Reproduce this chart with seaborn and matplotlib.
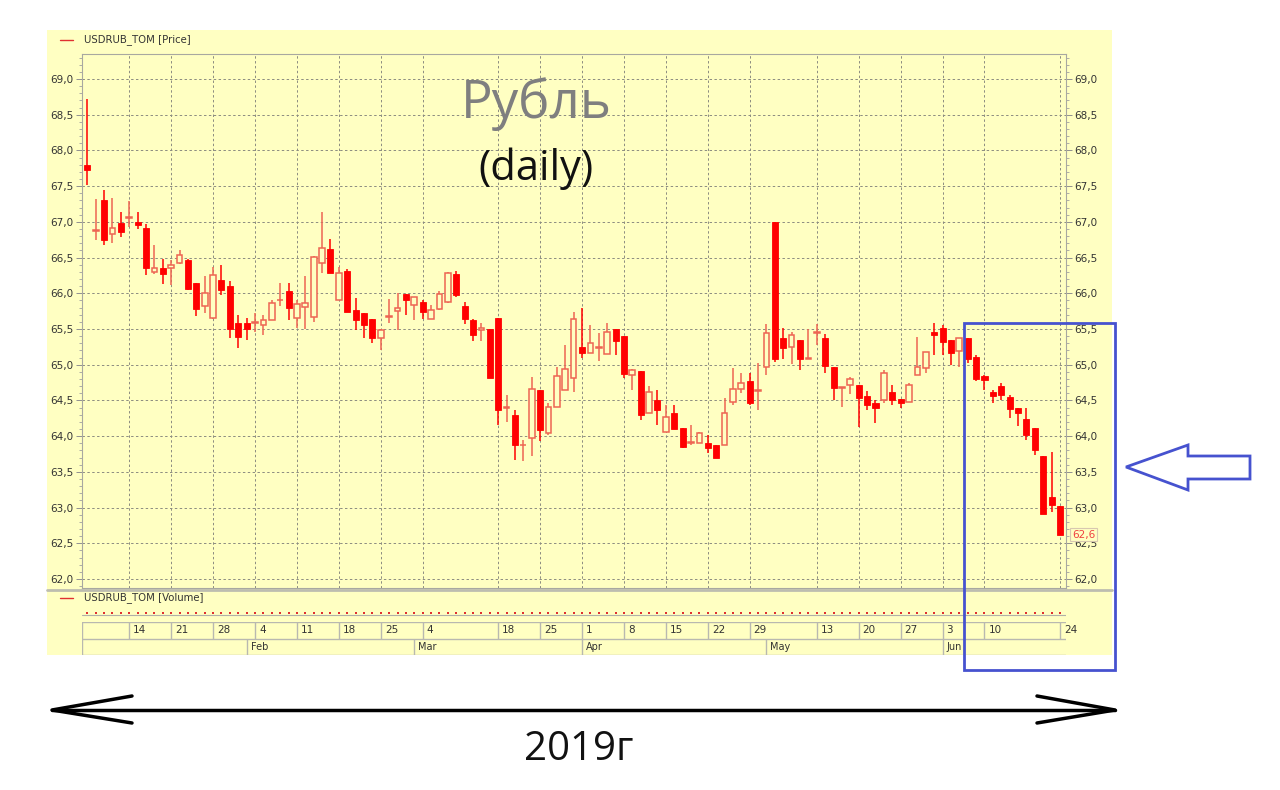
import numpy as np
import pandas as pd
import matplotlib
matplotlib.use("Agg")
import matplotlib.pyplot as plt
import matplotlib.transforms as mtrans
from matplotlib.patches import Rectangle, Polygon
from matplotlib.ticker import MultipleLocator, FixedLocator
import seaborn as sns

# ---------------- data ----------------
opens = [67.79, 66.87, 67.30, 66.83, 66.99, 67.06, 67.00, 66.92, 66.30, 66.35,
         66.35, 66.42, 66.47, 66.15, 65.82, 65.65, 66.19, 66.10, 65.58, 65.59,
         65.58, 65.56, 65.63, 65.90, 66.03, 65.65, 65.81, 65.67, 66.43, 66.62,
         65.90, 66.31, 65.77, 65.73, 65.64, 65.38, 65.67, 65.75, 65.99, 65.83,
         65.88, 65.64, 65.78, 65.88, 66.27, 65.82, 65.63, 65.48, 65.50, 65.65,
         64.39, 64.29, 63.87, 63.98, 64.65, 64.05, 64.41, 64.65, 64.81, 65.25,
         65.17, 65.24, 65.15, 65.50, 65.40, 64.85, 64.91, 64.33, 64.51, 64.06,
         64.33, 64.11, 63.90, 63.90, 63.90, 63.87, 63.88, 64.48, 64.66, 64.77,
         64.63, 64.97, 67.00, 65.38, 65.25, 65.35, 65.08, 65.44, 65.38, 64.97,
         64.68, 64.72, 64.71, 64.56, 64.46, 64.51, 64.62, 64.52, 64.48, 64.85,
         64.95, 65.46, 65.51, 65.35, 65.19, 65.37, 65.11, 64.84, 64.62, 64.70,
         64.55, 64.39, 64.24, 64.11, 63.72, 63.15, 63.02]
highs = [68.72, 67.32, 67.44, 67.33, 67.14, 67.29, 67.14, 66.97, 66.68, 66.48,
         66.46, 66.61, 66.48, 66.15, 66.24, 66.37, 66.40, 66.17, 65.69, 65.66,
         65.72, 65.70, 65.91, 66.15, 66.14, 65.91, 66.24, 66.52, 67.14, 66.76,
         66.37, 66.34, 65.93, 65.73, 65.64, 65.50, 65.92, 66.01, 65.99, 65.95,
         65.91, 65.83, 66.03, 66.30, 66.31, 65.88, 65.64, 65.59, 65.50, 65.65,
         64.57, 64.37, 63.94, 64.83, 64.65, 64.46, 64.97, 65.27, 65.74, 65.80,
         65.55, 65.45, 65.59, 65.50, 65.40, 64.94, 64.91, 64.70, 64.64, 64.43,
         64.44, 64.11, 64.15, 64.06, 64.01, 63.87, 64.53, 64.96, 64.88, 64.89,
         65.03, 65.57, 67.00, 65.51, 65.46, 65.35, 65.50, 65.57, 65.43, 64.97,
         64.68, 64.83, 64.71, 64.63, 64.50, 64.93, 64.71, 64.52, 64.74, 65.39,
         65.18, 65.58, 65.56, 65.35, 65.38, 65.37, 65.14, 64.86, 64.65, 64.74,
         64.57, 64.39, 64.39, 64.11, 63.72, 63.78, 63.02]
lows = [67.52, 66.74, 66.67, 66.70, 66.79, 66.93, 66.90, 66.26, 66.27, 66.13,
        66.12, 66.41, 66.04, 65.68, 65.72, 65.64, 65.98, 65.37, 65.23, 65.34,
        65.46, 65.42, 65.62, 65.82, 65.63, 65.52, 65.50, 65.60, 66.28, 66.29,
        65.90, 65.74, 65.48, 65.37, 65.31, 65.21, 65.59, 65.49, 65.70, 65.63,
        65.64, 65.64, 65.77, 65.87, 65.95, 65.57, 65.33, 65.33, 64.81, 64.16,
        64.20, 63.67, 63.65, 63.72, 63.93, 64.01, 64.41, 64.65, 64.62, 65.10,
        65.17, 65.05, 65.15, 65.14, 64.81, 64.64, 64.22, 64.33, 64.15, 64.06,
        64.10, 63.83, 63.88, 63.90, 63.76, 63.69, 63.88, 64.44, 64.60, 64.44,
        64.37, 64.85, 65.04, 65.08, 65.01, 64.92, 65.08, 65.28, 64.89, 64.50,
        64.41, 64.59, 64.13, 64.37, 64.18, 64.47, 64.44, 64.39, 64.48, 64.85,
        64.88, 65.14, 65.14, 65.00, 64.97, 65.03, 64.77, 64.65, 64.47, 64.51,
        64.25, 64.14, 63.94, 63.73, 62.91, 62.94, 62.62]
closes = [67.73, 66.88, 66.74, 66.91, 66.86, 67.07, 66.96, 66.36, 66.36, 66.27,
          66.39, 66.53, 66.06, 65.78, 66.00, 66.25, 66.05, 65.50, 65.39, 65.50,
          65.59, 65.62, 65.86, 65.91, 65.80, 65.85, 65.87, 66.51, 66.63, 66.29,
          66.28, 65.74, 65.63, 65.56, 65.38, 65.49, 65.68, 65.79, 65.90, 65.95,
          65.74, 65.76, 65.99, 66.29, 65.98, 65.64, 65.41, 65.51, 64.82, 64.37,
          64.40, 63.87, 63.88, 64.66, 64.08, 64.41, 64.84, 64.94, 65.64, 65.17,
          65.30, 65.25, 65.46, 65.33, 64.87, 64.92, 64.29, 64.62, 64.36, 64.27,
          64.10, 63.85, 63.91, 64.05, 63.83, 63.70, 64.33, 64.66, 64.75, 64.47,
          64.64, 65.45, 65.08, 65.24, 65.42, 65.08, 65.09, 65.45, 64.98, 64.67,
          64.69, 64.80, 64.53, 64.44, 64.40, 64.88, 64.50, 64.47, 64.72, 64.97,
          65.18, 65.42, 65.32, 65.16, 65.38, 65.08, 64.80, 64.78, 64.56, 64.57,
          64.38, 64.32, 64.02, 63.80, 62.91, 63.04, 62.62]

holidays = ["2019-01-07", "2019-03-08", "2019-05-01", "2019-05-09", "2019-06-12"]
tick_dates = ["2019-01-14", "2019-01-21", "2019-01-28", "2019-02-04", "2019-02-11",
              "2019-02-18", "2019-02-25", "2019-03-04", "2019-03-18", "2019-03-25",
              "2019-04-01", "2019-04-08", "2019-04-15", "2019-04-22", "2019-04-29",
              "2019-05-13", "2019-05-20", "2019-05-27", "2019-06-03", "2019-06-10",
              "2019-06-24"]
month_labels = ["Feb", "Mar", "Apr", "May", "Jun"]
price_ticks = [62.0, 62.5, 63.0, 63.5, 64.0, 64.5, 65.0, 65.5, 66.0, 66.5,
               67.0, 67.5, 68.0, 68.5, 69.0]
last_label = "62,6"

# ---------------- prep ----------------
dates = pd.bdate_range("2019-01-04", "2019-06-24")
dates = dates[~dates.isin(pd.to_datetime(holidays))]
df = pd.DataFrame({"date": dates, "open": opens, "high": highs,
                   "low": lows, "close": closes})
df["k"] = np.arange(len(df))
df["up"] = df["close"] >= df["open"]
tick_pos = dates.get_indexer(pd.to_datetime(tick_dates))
months = dates.to_period("M")
month_pos = [int(np.argmax(months == m)) for m in months.unique()[1:]]

# ---------------- style ----------------
sns.set_theme(style="white")
plt.rcParams["font.family"] = ["DejaVu Sans"]
YEL = "#FFFFC2"
RED = "#FF0000"
SAL = "#EE6452"
GRID = "#8C8C80"
TXT = "#333333"
W, H = 1280, 790

fig = plt.figure(figsize=(12.8, 7.9), dpi=100)
fig.patch.set_facecolor("white")


def rect(x0, y0, x1, y1):
    return [x0 / W, 1 - y1 / H, (x1 - x0) / W, (y1 - y0) / H]


bg = fig.add_axes([0, 0, 1, 1], zorder=0)
bg.set_xlim(0, W)
bg.set_ylim(H, 0)
bg.axis("off")
bg.add_patch(Rectangle((47, 30), 1112 - 47, 655 - 30, fc=YEL, ec="none"))
bg.plot([47, 1112], [590, 590], color="#BDBDB0", lw=2)
bg.plot([60, 73], [40, 40], color="#E03030", lw=1)
bg.text(84, 40, "USDRUB_TOM [Price]", fontsize=7.3, color=TXT, va="center")
bg.plot([60, 73], [598, 598], color="#E03030", lw=1)
bg.text(84, 598, "USDRUB_TOM [Volume]", fontsize=7.3, color=TXT, va="center")

XL = (-0.632, 116.72)

# ---------------- price axes ----------------
ax = fig.add_axes(rect(82, 54, 1066, 588), zorder=2)
ax.set_facecolor(YEL)
ax.set_xlim(*XL)
ax.set_ylim(61.874, 69.35)

for up, grp in df.groupby("up"):
    col = SAL if up else RED
    ax.vlines(grp["k"], grp["low"], grp["high"], colors=col, lw=1.1, zorder=3)
    bottom = grp[["open", "close"]].min(axis=1)
    height = (grp["close"] - grp["open"]).abs().clip(lower=0.012)
    if up:
        ax.bar(grp["k"], height, bottom=bottom, width=0.68, facecolor=YEL,
               edgecolor=SAL, linewidth=1.1, zorder=4)
    else:
        ax.bar(grp["k"], height, bottom=bottom, width=0.72, facecolor=RED,
               edgecolor=RED, linewidth=0.6, zorder=4)

ax.yaxis.set_major_locator(FixedLocator(price_ticks))
ax.set_yticklabels([f"{t:.1f}".replace(".", ",") for t in price_ticks])
ax.yaxis.set_minor_locator(MultipleLocator(0.1))
ax.set_xticks(tick_pos)
ax.set_xticklabels([])
ax.tick_params(axis="y", which="major", left=True, right=True, labelleft=True,
               labelright=True, length=4, width=0.7, color="#909090",
               labelsize=7.5, labelcolor=TXT, pad=2)
ax.tick_params(axis="y", which="minor", left=True, right=True, length=2,
               width=0.6, color="#A0A0A0")
ax.tick_params(axis="x", length=0)
ax.grid(True, which="major", axis="both", color=GRID, lw=0.7,
        linestyle=(0, (2.5, 2.5)))
ax.set_axisbelow(True)
for s in ax.spines.values():
    s.set_color("#A8A8A0")
    s.set_linewidth(0.8)

last_close = df["close"].iloc[-1]
ax.text(1.006, last_close, last_label, transform=mtrans.blended_transform_factory(
    ax.transAxes, ax.transData), fontsize=7.5, color="#F04040", va="center",
    ha="left", zorder=6,
    bbox=dict(boxstyle="square,pad=0.15", fc=YEL, ec="#D8C8B0", lw=0.8))

# ---------------- volume strip ----------------
vol = fig.add_axes(rect(82, 607, 1066, 619), zorder=2)
vol.set_xlim(*XL)
vol.set_ylim(-1, 1)
vol.axis("off")
vol.axhline(-0.3, color="#B0B0A8", lw=0.8)
sns.scatterplot(x=df["k"], y=np.zeros(len(df)), ax=vol, color="#E03030",
                s=2.5, marker="s", linewidth=0, legend=False)

# ---------------- date rows ----------------
dax = fig.add_axes(rect(82, 622, 1066, 655), zorder=2)
dax.set_xlim(*XL)
dax.set_ylim(2, 0)
dax.axis("off")
for yy in (0, 1, 2):
    dax.axhline(yy, color="#B8B8B0", lw=1)
dax.vlines([XL[0] + 0.05], 0, 2, color="#B8B8B0", lw=1)
dax.vlines(tick_pos, 0, 1, color="#B8B8B0", lw=1)
dax.vlines(month_pos, 1, 2, color="#B8B8B0", lw=1)
off = mtrans.offset_copy(dax.transData, fig=fig, x=4, y=0, units="dots")
for p, d in zip(tick_pos, tick_dates):
    dax.text(p, 0.5, str(pd.Timestamp(d).day), transform=off, fontsize=7.5,
             color=TXT, va="center", ha="left", clip_on=False)
for p, m in zip(month_pos, month_labels):
    dax.text(p, 1.5, m, transform=off, fontsize=7, color=TXT, va="center",
             ha="left")

# ---------------- overlay annotations ----------------
fg = fig.add_axes([0, 0, 1, 1], zorder=5)
fg.set_xlim(0, W)
fg.set_ylim(H, 0)
fg.axis("off")
fg.patch.set_alpha(0)
fg.text(536, 118, "Рубль", fontsize=38, color="#7F7F7F", ha="center",
        va="baseline", family=["Open Sans", "DejaVu Sans"])
fg.text(536, 180, "(daily)", fontsize=30, color="#111111", ha="center",
        va="baseline", family=["Open Sans", "DejaVu Sans"])
fg.text(579, 760, "2019г", fontsize=29, color="#111111", ha="center",
        va="baseline", family=["Open Sans", "DejaVu Sans"])
BLUE = "#4652CF"
fg.add_patch(Rectangle((964, 323), 151, 347, fill=False, ec=BLUE, lw=2))
fg.add_patch(Polygon([(1126, 467), (1188, 445), (1188, 456), (1250, 456),
                      (1250, 479), (1188, 479), (1188, 490)], closed=True,
                     fill=False, ec=BLUE, lw=2, joinstyle="miter"))
fg.plot([52, 1115], [710, 710], color="black", lw=2.5)
fg.plot([132, 52, 132], [696, 710, 723], color="black", lw=2.5)
fg.plot([1037, 1115, 1037], [696, 710, 723], color="black", lw=2.5)

fig.savefig("out.png", dpi=100, facecolor="white")
